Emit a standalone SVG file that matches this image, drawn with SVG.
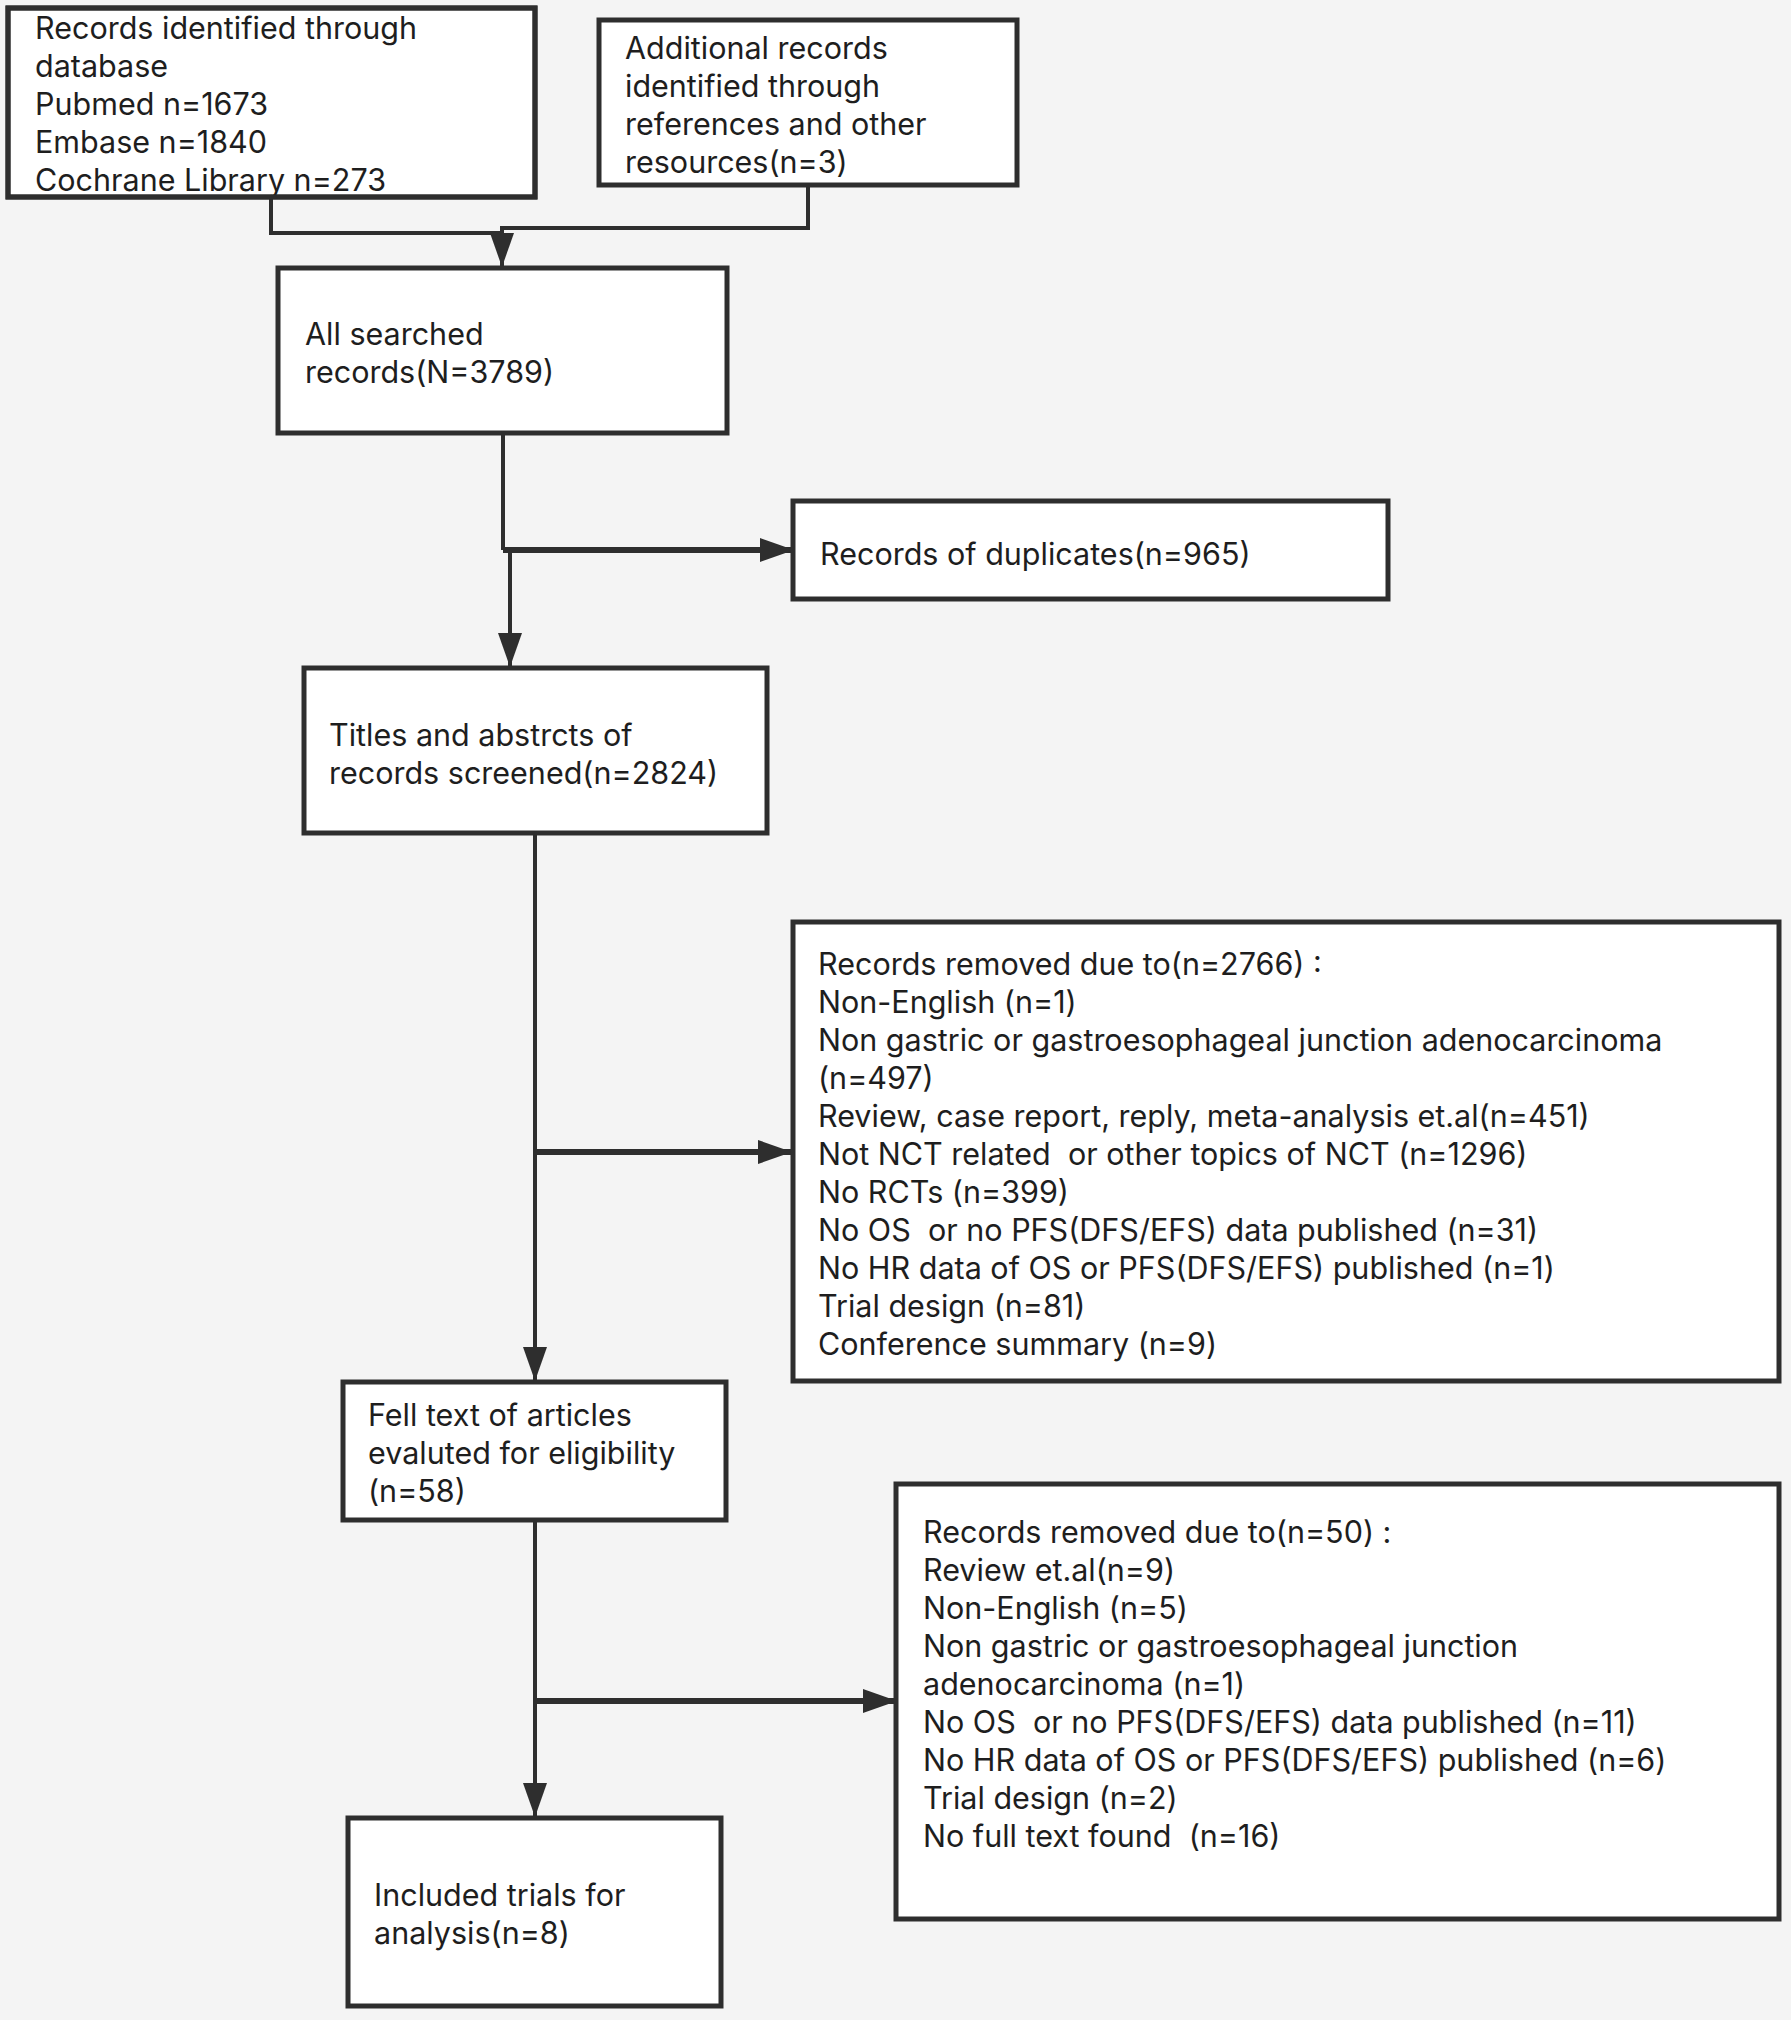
<svg xmlns="http://www.w3.org/2000/svg" width="1791" height="2020" viewBox="0 0 1791 2020">
<style>
.box{fill:#ffffff;stroke:#2e2e2e;stroke-width:5}
.t{font-family:Inter,"Noto Sans","DejaVu Sans",sans-serif;font-size:30.5px;fill:#1e1e1e;white-space:pre}
.c{fill:none;stroke:#2e2e2e;stroke-width:4}
.ct{fill:none;stroke:#2e2e2e;stroke-width:6}
</style>
<defs>
<marker id="ah" markerUnits="userSpaceOnUse" markerWidth="34" markerHeight="24" refX="34" refY="12" orient="auto">
<path d="M0,0 L34,12 L0,24 z" fill="#2e2e2e"/>
</marker>
</defs>
<rect x="0" y="0" width="1791" height="2020" fill="#f4f4f4"/>
<g id="connectors">
<path class="c" d="M271,197 V233 H502"/>
<path class="c" d="M808,186 V228 H502 V267" marker-end="url(#ah)"/>
<path class="c" d="M503,433 V550"/>
<path class="ct" d="M503,550 H794" marker-end="url(#ah)"/>
<path class="c" d="M510,550 V667" marker-end="url(#ah)"/>
<path class="c" d="M535,833 V1381" marker-end="url(#ah)"/>
<path class="ct" d="M535,1152 H792" marker-end="url(#ah)"/>
<path class="c" d="M535,1520 V1817" marker-end="url(#ah)"/>
<path class="ct" d="M535,1701 H897" marker-end="url(#ah)"/>
</g>
<g id="n1">
<rect class="box" x="8" y="8" width="527" height="189"/>
<text class="t" x="35" y="39">Records identified through<tspan x="35" dy="38">database</tspan><tspan x="35" dy="38">Pubmed n=1673</tspan><tspan x="35" dy="38">Embase n=1840</tspan><tspan x="35" dy="38">Cochrane Library n=273</tspan></text>
<rect x="8" y="8" width="527" height="189" fill="none" stroke="#2e2e2e" stroke-width="5"/>
</g>
<g id="n2">
<rect class="box" x="599" y="20" width="418" height="165"/>
<text class="t" x="625" y="59">Additional records<tspan x="625" dy="38">identified through</tspan><tspan x="625" dy="38">references and other</tspan><tspan x="625" dy="38">resources(n=3)</tspan></text>
</g>
<g id="n3">
<rect class="box" x="278" y="268" width="449" height="165"/>
<text class="t" x="305" y="345">All searched<tspan x="305" dy="38">records(N=3789)</tspan></text>
</g>
<g id="n4">
<rect class="box" x="793" y="501" width="595" height="98"/>
<text class="t" x="820" y="565">Records of duplicates(n=965)</text>
</g>
<g id="n5">
<rect class="box" x="304" y="668" width="463" height="165"/>
<text class="t" x="329" y="746">Titles and abstrcts of<tspan x="329" dy="38">records screened(n=2824)</tspan></text>
</g>
<g id="n6">
<rect class="box" x="793" y="922" width="986" height="459"/>
<text class="t" x="818" y="975" xml:space="preserve">Records removed due to(n=2766) :<tspan x="818" dy="38">Non-English (n=1)</tspan><tspan x="818" dy="38">Non gastric or gastroesophageal junction adenocarcinoma</tspan><tspan x="818" dy="38">(n=497)</tspan><tspan x="818" dy="38">Review, case report, reply, meta-analysis et.al(n=451)</tspan><tspan x="818" dy="38">Not NCT related  or other topics of NCT (n=1296)</tspan><tspan x="818" dy="38">No RCTs (n=399)</tspan><tspan x="818" dy="38">No OS  or no PFS(DFS/EFS) data published (n=31)</tspan><tspan x="818" dy="38">No HR data of OS or PFS(DFS/EFS) published (n=1)</tspan><tspan x="818" dy="38">Trial design (n=81)</tspan><tspan x="818" dy="38">Conference summary (n=9)</tspan></text>
</g>
<g id="n7">
<rect class="box" x="343" y="1382" width="383" height="138"/>
<text class="t" x="368" y="1426">Fell text of articles<tspan x="368" dy="38">evaluted for eligibility</tspan><tspan x="368" dy="38">(n=58)</tspan></text>
</g>
<g id="n8">
<rect class="box" x="896" y="1484" width="883" height="435"/>
<text class="t" x="923" y="1543" xml:space="preserve">Records removed due to(n=50) :<tspan x="923" dy="38">Review et.al(n=9)</tspan><tspan x="923" dy="38">Non-English (n=5)</tspan><tspan x="923" dy="38">Non gastric or gastroesophageal junction</tspan><tspan x="923" dy="38">adenocarcinoma (n=1)</tspan><tspan x="923" dy="38">No OS  or no PFS(DFS/EFS) data published (n=11)</tspan><tspan x="923" dy="38">No HR data of OS or PFS(DFS/EFS) published (n=6)</tspan><tspan x="923" dy="38">Trial design (n=2)</tspan><tspan x="923" dy="38">No full text found  (n=16)</tspan></text>
</g>
<g id="n9">
<rect class="box" x="348" y="1818" width="373" height="188"/>
<text class="t" x="374" y="1906">Included trials for<tspan x="374" dy="38">analysis(n=8)</tspan></text>
</g>
</svg>
